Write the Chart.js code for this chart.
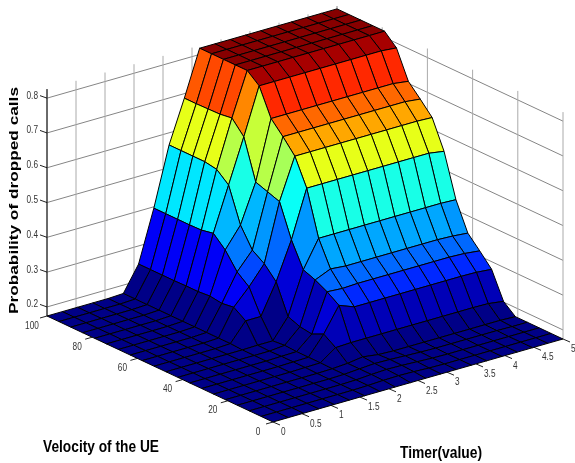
<!DOCTYPE html>
<html>
<head>
<meta charset="utf-8">
<title>Probability of dropped calls</title>
<script src="https://cdn.jsdelivr.net/npm/chart.js@4"></script>
<style>
  html, body { margin: 0; padding: 0; background: #fff; overflow: hidden; }
  canvas { display: block; }
</style>
</head>
<body>
<canvas id="surfaceChart" width="575" height="463"></canvas>
<script>
// values
var timerValues = [0, 0.263, 0.526, 0.789, 1.053, 1.316, 1.579, 1.842, 2.105, 2.368,
                   2.632, 2.895, 3.158, 3.421, 3.684, 3.947, 4.211, 4.474, 4.737, 5];
var velocityValues = [0, 5.26, 10.53, 15.79, 21.05, 26.32, 31.58, 36.84, 42.11, 47.37,
                      52.63, 57.89, 63.16, 68.42, 73.68, 78.95, 84.21, 89.47, 94.74, 100];
var timerTicks = [0, 0.5, 1, 1.5, 2, 2.5, 3, 3.5, 4, 4.5, 5];
var velocityTicks = [0, 20, 40, 60, 80, 100];
var probTicks = [0.2, 0.3, 0.4, 0.5, 0.6, 0.7, 0.8];

// one row per velocity value (first row is velocity 0), one column per timer value
var dropProb = [
  [.174,.174,.174,.174,.174,.174,.174,.174,.174,.174,.174,.174,.174,.174,.174,.174,.174,.174,.174,.174],
  [.174,.174,.174,.174,.174,.174,.174,.175,.177,.178,.177,.175,.174,.174,.174,.174,.174,.174,.174,.174],
  [.174,.174,.174,.174,.174,.174,.174,.175,.178,.180,.179,.177,.175,.174,.174,.174,.174,.174,.174,.174],
  [.174,.174,.174,.174,.174,.174,.174,.175,.178,.181,.180,.178,.176,.175,.175,.175,.175,.175,.174,.174],
  [.174,.174,.174,.174,.174,.174,.174,.175,.178,.184,.178,.176,.176,.176,.176,.176,.176,.176,.176,.174],
  [.174,.174,.174,.174,.174,.174,.175,.176,.207,.209,.209,.209,.209,.209,.209,.209,.209,.209,.208,.202],
  [.174,.174,.174,.174,.174,.174,.175,.176,.230,.300,.283,.283,.283,.283,.283,.283,.283,.283,.282,.278],
  [.174,.174,.174,.174,.174,.174,.175,.176,.214,.323,.320,.322,.322,.322,.322,.322,.322,.322,.320,.315],
  [.174,.174,.174,.174,.174,.174,.174,.178,.219,.341,.360,.356,.356,.356,.356,.356,.356,.356,.354,.350],
  [.174,.174,.174,.174,.174,.174,.175,.175,.232,.354,.432,.432,.432,.432,.432,.432,.432,.432,.432,.430],
  [.174,.174,.174,.174,.174,.176,.229,.229,.316,.424,.560,.560,.560,.560,.560,.560,.560,.560,.560,.553],
  [.174,.174,.174,.174,.174,.176,.252,.298,.352,.518,.636,.636,.636,.636,.636,.636,.636,.636,.636,.634],
  [.174,.174,.174,.174,.174,.176,.247,.325,.375,.530,.676,.676,.676,.676,.676,.676,.676,.676,.676,.671],
  [.174,.174,.174,.174,.174,.176,.252,.372,.431,.542,.712,.712,.712,.712,.712,.712,.712,.712,.712,.706],
  [.174,.174,.174,.174,.174,.176,.249,.404,.530,.656,.790,.790,.790,.790,.790,.790,.790,.790,.790,.786],
  [.174,.174,.174,.174,.174,.176,.249,.397,.559,.694,.818,.818,.818,.818,.818,.818,.818,.818,.818,.818],
  [.174,.174,.174,.174,.174,.176,.248,.396,.565,.689,.818,.818,.818,.818,.818,.818,.818,.818,.818,.818],
  [.174,.174,.174,.174,.174,.176,.248,.396,.565,.688,.818,.818,.818,.818,.818,.818,.818,.818,.818,.818],
  [.174,.174,.174,.174,.174,.176,.248,.396,.565,.687,.818,.818,.818,.818,.818,.818,.818,.818,.818,.818],
  [.174,.174,.174,.174,.174,.176,.248,.396,.565,.687,.818,.818,.818,.818,.818,.818,.818,.818,.818,.818]
];

var zMin = 0.174, zMax = 0.818, zBoxTop = 0.826;

// view: where the floor corners land, matlab style orthographic box
var view = { x0: 273, y0: 422, tx: 290, ty: -83, vx: -226, vy: -106, zy: 348 };

function project(t, v, z) {
  return {
    x: view.x0 + (t / 5) * view.tx + (v / 100) * view.vx,
    y: view.y0 + (t / 5) * view.ty + (v / 100) * view.vy - (z - zMin) * view.zy
  };
}

// jet colormap, 64 steps like matlab
function jet(z) {
  var f = (z - zMin) / (zMax - zMin);
  var k = Math.min(63, Math.max(0, Math.floor(f * 64)));
  var a = (k + 0.5) / 64;
  function ch(c) { return Math.round(255 * Math.max(0, Math.min(1, 1.5 - Math.abs(4 * a - c)))); }
  return 'rgb(' + ch(3) + ',' + ch(2) + ',' + ch(1) + ')';
}

var datasets = [];

// surface cells, nearest corner first because chart.js paints dataset 0 last
for (var j = 0; j < velocityValues.length - 1; j++) {
  for (var i = 0; i < timerValues.length - 1; i++) {
    var t0 = timerValues[i], t1 = timerValues[i + 1];
    var v0 = velocityValues[j], v1 = velocityValues[j + 1];
    var p00 = project(t0, v0, dropProb[j][i]);
    var top = Math.max(dropProb[j][i], dropProb[j][i + 1], dropProb[j + 1][i], dropProb[j + 1][i + 1]);
    datasets.push({
      data: [p00, project(t1, v0, dropProb[j][i + 1]), project(t1, v1, dropProb[j + 1][i + 1]),
             project(t0, v1, dropProb[j + 1][i]), p00],
      showLine: true,
      fill: 'shape',
      backgroundColor: jet(dropProb[j][i]),
      borderColor: '#000',
      // floor cells are small, thin lines keep the blue visible
      borderWidth: top < 0.19 ? 0.5 : 1,
      pointRadius: 0,
      tension: 0
    });
  }
}

function addLine(points, color, width) {
  datasets.push({
    data: points,
    showLine: true,
    fill: false,
    borderColor: color,
    borderWidth: width,
    pointRadius: 0,
    tension: 0
  });
}

// tick marks and black z axis
var tickColor = '#222';
addLine([project(0, 100, zMin), project(0, 100, zBoxTop)], '#000', 1);
probTicks.forEach(function(z) {
  var p = project(0, 100, z);
  addLine([p, { x: p.x - 7, y: p.y - 2.5 }], tickColor, 1);
});
velocityTicks.forEach(function(v) {
  var p = project(0, v, zMin);
  addLine([p, { x: p.x - 7, y: p.y + 2 }], tickColor, 1);
});
timerTicks.forEach(function(t) {
  var p = project(t, 0, zMin);
  addLine([p, { x: p.x + 7, y: p.y + 3 }], tickColor, 1);
});

// back walls
timerTicks.forEach(function(t) {
  addLine([project(t, 100, zMin), project(t, 100, zBoxTop)], '#aaa', 1);
});
velocityTicks.forEach(function(v) {
  addLine([project(5, v, zMin), project(5, v, zBoxTop)], '#aaa', 1);
});
probTicks.forEach(function(z) {
  addLine([project(0, 100, z), project(5, 100, z), project(5, 0, z)], '#858585', 1);
});

var axisText = {
  id: 'axisText',
  afterDraw: function(chart) {
    var ctx = chart.ctx;
    var sx = chart.scales.x, sy = chart.scales.y;
    // the reference lettering is squeezed sideways, maxWidth does the same
    function put(p, dx, dy, text, align) {
      ctx.textAlign = align;
      ctx.fillText(text, sx.getPixelForValue(p.x) + dx, sy.getPixelForValue(p.y) + dy,
                   ctx.measureText(text).width * 0.75);
    }
    ctx.save();
    ctx.textBaseline = 'middle';
    ctx.fillStyle = '#333';
    ctx.font = '11px "Liberation Sans"';
    probTicks.forEach(function(z) {
      put(project(0, 100, z), -9, -2.5, z.toFixed(1), 'right');
    });
    velocityTicks.forEach(function(v) {
      put(project(0, v, zMin), -15, 9.5, String(v), 'center');
    });
    timerTicks.forEach(function(t) {
      put(project(t, 0, zMin), 8, 10, String(t), 'left');
    });

    ctx.textBaseline = 'alphabetic';
    ctx.fillStyle = '#000';
    ctx.font = 'bold 17px "Liberation Sans"';
    ctx.textAlign = 'left';
    ctx.fillText('Velocity of the UE', 43, 451.5, 116);
    ctx.fillText('Timer(value)', 400, 457.5, 82);

    ctx.textAlign = 'center';
    ctx.font = 'bold 13px "Liberation Sans"';
    var stretch = 227 / ctx.measureText('Probability of dropped calls').width;
    ctx.translate(18, 200.5);
    ctx.rotate(-Math.PI / 2);
    ctx.scale(stretch, 1);
    ctx.fillText('Probability of dropped calls', 0, 0);
    ctx.restore();
  }
};

var surfaceChart = new Chart(document.getElementById('surfaceChart'), {
  type: 'scatter',
  data: { datasets: datasets },
  plugins: [axisText],
  options: {
    responsive: false,
    animation: false,
    layout: { padding: 0 },
    plugins: { legend: { display: false }, tooltip: { enabled: false } },
    scales: {
      x: { type: 'linear', display: false, min: 0, max: 575 },
      y: { type: 'linear', display: false, min: 0, max: 463, reverse: true }
    }
  }
});
</script>
</body>
</html>
